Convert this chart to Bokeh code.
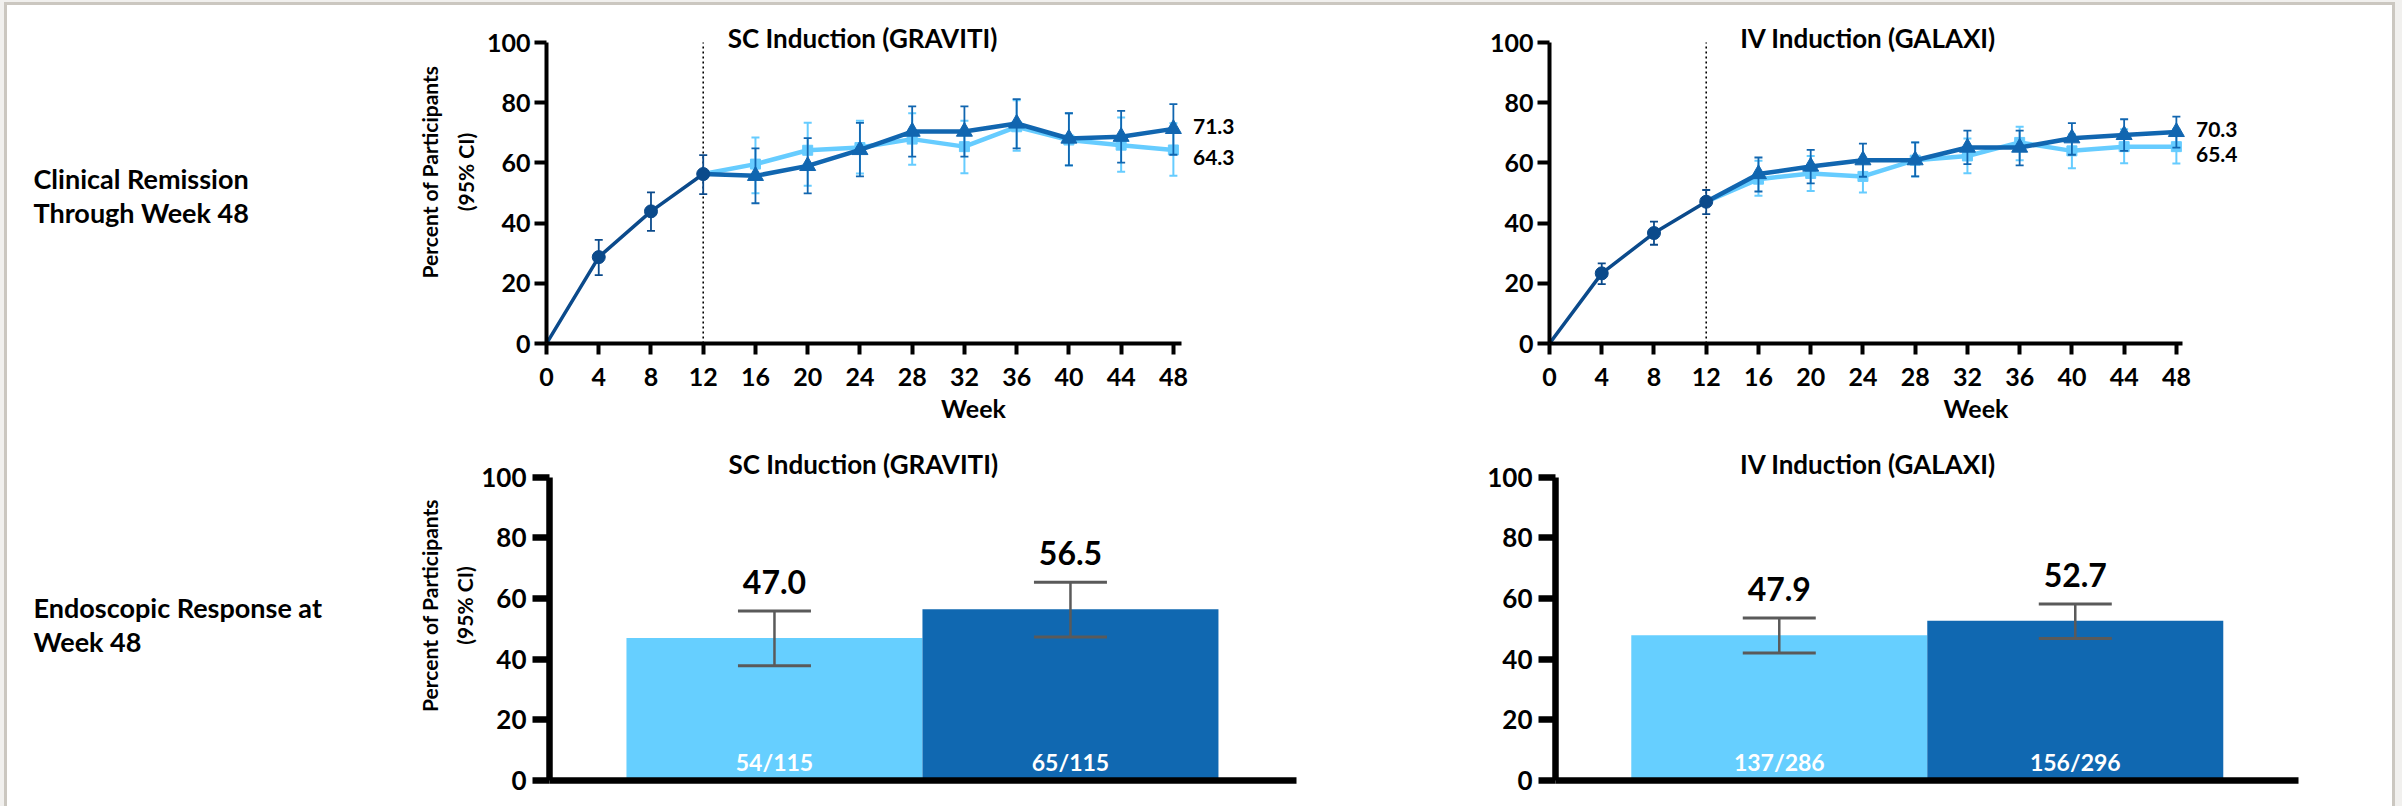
from bokeh.plotting import figure
from bokeh.layouts import row, column
from bokeh.models import Range1d, FixedTicker, LinearAxis
from bokeh.embed import file_html
from bokeh.resources import INLINE
from bokeh.core.properties import value

# ---------------- data ----------------
week_ticks = [0, 4, 8, 12, 16, 20, 24, 28, 32, 36, 40, 44, 48]
weeks_ind = [0, 4, 8, 12]
weeks_maint = [12, 16, 20, 24, 28, 32, 36, 40, 44, 48]
y_ticks = [0, 20, 40, 60, 80, 100]

# SC Induction (GRAVITI) - clinical remission
grav_ind = [0, 28.7, 43.9, 56.3]
grav_ind_lo = [None, 22.7, 37.4, 49.6]
grav_ind_hi = [None, 34.4, 50.2, 62.6]
grav_light = [56.3, 59.6, 64.2, 65.1, 67.9, 65.4, 72.0, 67.6, 65.9, 64.3]
grav_light_lo = [None, 49.9, 52.4, 56.5, 59.4, 56.6, 64.0, 59.1, 57.1, 55.7]
grav_light_hi = [None, 68.4, 73.3, 74.0, 76.5, 74.0, 80.8, 76.5, 75.1, 73.2]
grav_dark = [56.3, 55.7, 59.0, 64.3, 70.4, 70.4, 73.1, 68.1, 68.7, 71.3]
grav_dark_lo = [None, 46.6, 49.9, 55.5, 62.1, 62.1, 64.8, 59.2, 60.1, 62.7]
grav_dark_hi = [None, 64.8, 68.2, 73.3, 78.8, 78.8, 81.2, 76.5, 77.3, 79.5]

# IV Induction (GALAXI) - clinical remission
gal_ind = [0, 23.3, 36.7, 47.1]
gal_ind_lo = [None, 19.7, 32.8, 43.0]
gal_ind_hi = [None, 26.6, 40.5, 51.0]
gal_light = [47.1, 54.6, 56.5, 55.5, 60.9, 62.3, 66.8, 64.0, 65.4, 65.4]
gal_light_lo = [None, 49.1, 50.7, 50.2, 55.5, 56.6, 60.9, 58.2, 59.9, 59.8]
gal_light_hi = [None, 60.7, 62.3, 60.9, 66.8, 68.1, 72.0, 69.5, 71.2, 71.2]
gal_dark = [47.1, 56.3, 58.8, 60.9, 60.9, 65.1, 65.1, 68.2, 69.3, 70.3]
gal_dark_lo = [None, 50.5, 53.2, 55.4, 55.5, 59.6, 59.2, 62.7, 64.0, 65.1]
gal_dark_hi = [None, 61.8, 64.3, 66.4, 66.8, 70.7, 70.7, 73.2, 74.5, 75.4]

# Endoscopic response at week 48
bar_groups = ["light", "dark"]
grav_bar = [47.0, 56.5]
grav_bar_lo = [37.8, 47.3]
grav_bar_hi = [55.9, 65.4]
grav_n = ["54/115", "65/115"]
gal_bar = [47.9, 52.7]
gal_bar_lo = [42.0, 46.8]
gal_bar_hi = [53.6, 58.2]
gal_n = ["137/286", "156/296"]

title_sc = "SC Induction (GRAVITI)"
title_iv = "IV Induction (GALAXI)"
row_labels_1 = ["Clinical Remission", "Through Week 48"]
row_labels_2 = ["Endoscopic Response at", "Week 48"]
y_label_1 = "Percent of Participants"
y_label_2 = "(95% CI)"

# ---------------- styles ----------------
FONT = "Lato"
C_IND = "#0B4A8B"
C_DARK = "#1166B0"
C_LIGHT = "#66CCFF"
C_BAR_LIGHT = "#66CFFF"
C_BAR_DARK = "#1068B1"
C_ERR = "#5A5A5A"

PX_WEEK = 13.06
PX_UNIT_TOP = 3.01
PX_UNIT_BOT = 3.033
PX_BAR = 296.0

H_TOP, B_TOP = 430, 87
H_BOT, B_BOT = 376, 26


def base_fig(w, h, left, bottom, xr, yr):
    p = figure(width=w, height=h, x_range=xr, y_range=yr,
               output_backend="svg", toolbar_location=None,
               min_border_left=left, min_border_right=0,
               min_border_top=0, min_border_bottom=bottom)
    p.outline_line_color = None
    p.xgrid.visible = False
    p.ygrid.visible = False
    p.background_fill_color = "white"
    p.border_fill_color = "white"
    p.title.visible = False
    return p


def style_axis(ax, fs, lw, tick_out, standoff):
    ax.axis_line_width = lw
    ax.axis_line_color = "black"
    ax.major_tick_line_width = lw
    ax.major_tick_line_color = "black"
    ax.major_tick_out = tick_out
    ax.major_tick_in = 0
    ax.minor_tick_line_color = None
    ax.major_label_text_font = FONT
    ax.major_label_text_font_style = "bold"
    ax.major_label_text_font_size = fs
    ax.major_label_text_color = "black"
    ax.major_label_standoff = standoff


def label_style(ax, text, standoff):
    ax.axis_label = text
    ax.axis_label_text_font = FONT
    ax.axis_label_text_font_style = "bold"
    ax.axis_label_text_font_size = "21px"
    ax.axis_label_text_color = "black"
    ax.axis_label_standoff = standoff


def yaxis_labels(p, standoff_inner, standoff_outer):
    label_style(p.yaxis[0], y_label_2, standoff_inner)
    outer = LinearAxis(ticker=FixedTicker(ticks=[]))
    outer.axis_line_color = None
    outer.major_tick_line_color = None
    outer.minor_tick_line_color = None
    outer.major_tick_out = 0
    outer.major_tick_in = 0
    outer.major_label_text_font_size = "0px"
    outer.major_label_standoff = 0
    label_style(outer, y_label_1, standoff_outer)
    p.add_layout(outer, "left")


def errbars(p, xs, lo, hi, color, lw, cap):
    xx = [x for x, l in zip(xs, lo) if l is not None]
    ll = [l for l in lo if l is not None]
    hh = [h for h in hi if h is not None]
    p.segment(x0=xx, y0=ll, x1=xx, y1=hh, line_color=color, line_width=lw)
    p.scatter(xx, ll, marker="dash", size=cap, line_color=color, line_width=lw)
    p.scatter(xx, hh, marker="dash", size=cap, line_color=color, line_width=lw)


def line_chart(w, left, title, title_x, ind, ind_lo, ind_hi, lt, lt_lo, lt_hi,
               dk, dk_lo, dk_hi, with_label, x_end):
    frame_w = w - left
    frame_h = H_TOP - B_TOP
    p = base_fig(w, H_TOP, left, B_TOP,
                 Range1d(0, frame_w / PX_WEEK), Range1d(0, frame_h / PX_UNIT_TOP))
    style_axis(p.xaxis[0], "25px", 4, 11, 13)
    style_axis(p.yaxis[0], "25px", 4, 12, 4)
    p.xaxis.ticker = FixedTicker(ticks=week_ticks)
    p.yaxis.ticker = FixedTicker(ticks=y_ticks)
    p.xaxis.bounds = (0, x_end)
    p.yaxis.bounds = (0, 100)
    p.xaxis.axis_label = "Week"
    p.xaxis.axis_label_text_font = FONT
    p.xaxis.axis_label_text_font_style = "bold"
    p.xaxis.axis_label_text_font_size = "25px"
    p.xaxis.axis_label_text_color = "black"
    p.xaxis.axis_label_standoff = 4
    if with_label:
        yaxis_labels(p, 6, 8)

    # dotted line at end of induction
    p.segment(x0=[weeks_ind[-1]], y0=[0], x1=[weeks_ind[-1]], y1=[100],
              line_color="black", line_width=1.6, line_dash="2 3")

    # light maintenance
    errbars(p, weeks_maint, lt_lo, lt_hi, C_LIGHT, 2, 8)
    p.line(weeks_maint, lt, line_color=C_LIGHT, line_width=4.5)
    p.scatter(weeks_maint[1:], lt[1:], marker="square", size=10,
              fill_color=C_LIGHT, line_color=C_LIGHT)
    # dark maintenance
    errbars(p, weeks_maint, dk_lo, dk_hi, C_DARK, 1.8, 8)
    p.line(weeks_maint, dk, line_color=C_DARK, line_width=4.5)
    p.scatter(weeks_maint[1:], dk[1:], marker="triangle", size=16,
              fill_color=C_DARK, line_color=C_DARK)
    # induction
    errbars(p, weeks_ind, ind_lo, ind_hi, C_IND, 1.8, 8)
    p.line(weeks_ind, ind, line_color=C_IND, line_width=3.5)
    p.scatter(weeks_ind[1:], ind[1:], marker="circle", size=13,
              fill_color=C_IND, line_color=C_IND)

    # end-of-line value labels
    top_v, bot_v = max(dk[-1], lt[-1]), min(dk[-1], lt[-1])
    lab_x = weeks_maint[-1] + 1.5
    p.text(x=[lab_x, lab_x], y=[top_v + 0.8, bot_v - 2.6],
           text=[f"{top_v:.1f}", f"{bot_v:.1f}"],
           text_font=value(FONT), text_font_style="bold", text_font_size="21px",
           text_color="black", text_align="left", text_baseline="middle")
    # panel title
    p.text(x=[title_x], y=[101.6], text=[title], text_font=value(FONT),
           text_font_style="bold", text_font_size="26px", text_color="black",
           text_align="center", text_baseline="middle")
    return p


def bar_chart(w, left, title, vals, lo, hi, ns, with_label, x_min, axis_len):
    frame_w = w - left
    frame_h = H_BOT - B_BOT
    p = base_fig(w, H_BOT, left, B_BOT,
                 Range1d(x_min, x_min + frame_w / PX_BAR), Range1d(0, frame_h / PX_UNIT_BOT))
    style_axis(p.yaxis[0], "26px", 6.5, 17, 6)
    style_axis(p.xaxis[0], "0px", 6.5, 0, 0)
    p.xaxis.ticker = FixedTicker(ticks=[])
    p.yaxis.ticker = FixedTicker(ticks=y_ticks)
    p.xaxis.bounds = (x_min, x_min + axis_len / PX_BAR)
    p.yaxis.bounds = (0, 100)
    if with_label:
        yaxis_labels(p, 1, 8)

    xs = list(range(len(bar_groups)))
    p.vbar(x=xs, top=vals, width=1.0, fill_color=[C_BAR_LIGHT, C_BAR_DARK],
           line_color=None)
    p.segment(x0=xs, y0=lo, x1=xs, y1=hi, line_color=C_ERR, line_width=2.5)
    p.scatter(xs, lo, marker="dash", size=73, line_color=C_ERR, line_width=3)
    p.scatter(xs, hi, marker="dash", size=73, line_color=C_ERR, line_width=3)
    p.text(x=xs, y=[h + 9.6 for h in hi], text=[f"{v:.1f}" for v in vals],
           text_font=value(FONT), text_font_style="bold", text_font_size="32px",
           text_color="black", text_align="center", text_baseline="middle")
    p.text(x=xs, y=[6.0] * len(xs), text=ns, text_font=value(FONT),
           text_font_style="bold", text_font_size="23px", text_color="white",
           text_align="center", text_baseline="middle")
    p.text(x=[0.30], y=[104.5], text=[title],
           text_font=value(FONT), text_font_style="bold", text_font_size="26px",
           text_color="black", text_align="center", text_baseline="middle")
    return p


def text_col(w, h, bottom, lines, baselines):
    fh = h - bottom
    p = figure(width=w, height=h, x_range=Range1d(0, w), y_range=Range1d(fh, 0),
               output_backend="svg", toolbar_location=None,
               x_axis_type=None, y_axis_type=None,
               min_border_left=0, min_border_right=0, min_border_top=0,
               min_border_bottom=bottom)
    p.outline_line_color = None
    p.xgrid.visible = False
    p.ygrid.visible = False
    p.title.visible = False
    p.text(x=[33] * len(lines), y=baselines, text=lines, text_font=value(FONT),
           text_font_style="bold", text_font_size="27px", text_color="black",
           text_align="left", text_baseline="alphabetic")
    return p


W_TEXT = 380
W_LEFT = 1020
W_RIGHT = 1002

t1 = text_col(W_TEXT, H_TOP, B_TOP, row_labels_1, [178, 212])
t2 = text_col(W_TEXT, H_BOT, B_BOT, row_labels_2, [177, 211])

tl = line_chart(W_LEFT, 166, title_sc, 24.2, grav_ind, grav_ind_lo, grav_ind_hi,
                grav_light, grav_light_lo, grav_light_hi,
                grav_dark, grav_dark_lo, grav_dark_hi, True, 48.6)
tr = line_chart(W_RIGHT, 149, title_iv, 24.4, gal_ind, gal_ind_lo, gal_ind_hi,
                gal_light, gal_light_lo, gal_light_hi,
                gal_dark, gal_dark_lo, gal_dark_hi, False, 48.5)
bl = bar_chart(W_LEFT, 169, title_sc, grav_bar, grav_bar_lo, grav_bar_hi, grav_n,
               True, -0.76, 747)
br = bar_chart(W_RIGHT, 155, title_iv, gal_bar, gal_bar_lo, gal_bar_hi, gal_n,
               False, -0.756, 743)

layout = column(row(t1, tl, tr), row(t2, bl, br))

html = file_html(layout, INLINE, title="Clinical remission and endoscopic response")
frame_css = (
    '<div style="position:fixed;left:0;top:0;width:2402px;height:806px;'
    'pointer-events:none;box-sizing:border-box;border-left:4px solid #f1f0ee;'
    'border-top:2px solid #f1f0ee;border-right:7px solid #f1f0ee;"></div>'
    '<div style="position:fixed;left:4px;top:2px;width:2391px;height:830px;'
    'pointer-events:none;box-sizing:border-box;border-left:3px solid #cbc7c0;'
    'border-top:3px solid #cbc7c0;border-right:3px solid #cbc7c0;"></div>'
)
html = html.replace("</body>", frame_css + "</body>")
open("out.html", "w").write(html)
